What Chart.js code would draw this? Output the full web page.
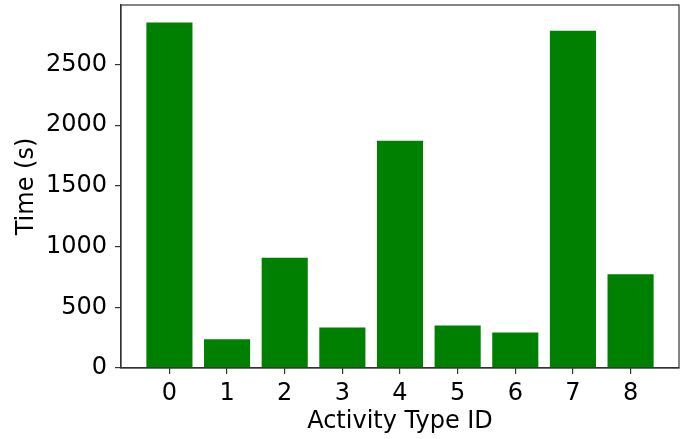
<!DOCTYPE html>
<html>
<head>
<meta charset="utf-8">
<script src="https://cdn.jsdelivr.net/npm/chart.js@4"></script>
<style>
    body { margin: 0; background: #fff; }
    #wrap { width: 688px; height: 439px; }
</style>
</head>
<body>
<div id="wrap"><canvas id="activityChart" width="688" height="439"></canvas></div>
<script>
// Activity time per type
const activityIds = [0, 1, 2, 3, 4, 5, 6, 7, 8];
const timeSeconds = [2846, 237, 909, 334, 1871, 350, 292, 2777, 772];
const yTicks = [0, 500, 1000, 1500, 2000, 2500];

const fontFamily = "'DejaVu Sans', sans-serif";
const textColor = '#000';

// draws the top and right spines, like a matplotlib axes box
const frameBox = {
    id: 'frameBox',
    afterDraw(chart) {
        const a = chart.chartArea;
        const ctx = chart.ctx;
        ctx.save();
        ctx.strokeStyle = '#333';
        ctx.lineWidth = 1.2;
        ctx.strokeRect(a.left, a.top, a.right - a.left, a.bottom - a.top);
        ctx.restore();
    }
};

new Chart(document.getElementById('activityChart'), {
    type: 'bar',
    data: {
        datasets: [{
            data: activityIds.map((id, i) => ({ x: id, y: timeSeconds[i] })),
            backgroundColor: '#008000',
            borderWidth: 0,
            barPercentage: 0.8,
            categoryPercentage: 1.0
        }]
    },
    options: {
        responsive: false,
        animation: false,
        layout: { padding: { left: 0, top: 5, right: 9, bottom: 0 } },
        plugins: {
            legend: { display: false },
            tooltip: { enabled: false }
        },
        scales: {
            x: {
                type: 'linear',
                offset: false,
                min: -0.84,
                max: 8.84,
                afterBuildTicks: scale => { scale.ticks = activityIds.map(v => ({ value: v })); },
                afterFit: scale => {
                    scale.height = 71;
                    scale.paddingLeft = 0;
                    scale.paddingRight = 0;
                },
                grid: { offset: false, drawOnChartArea: false, drawTicks: true, tickLength: 6, color: '#333', lineWidth: 1.2 },
                border: { display: true, color: '#333', width: 1.2 },
                ticks: {
                    color: textColor,
                    font: { family: fontFamily, size: 24 },
                    padding: 5,
                    maxRotation: 0,
                    callback: v => String(v)
                },
                title: {
                    display: true,
                    text: 'Activity Type ID',
                    color: textColor,
                    font: { family: fontFamily, size: 24 },
                    padding: { top: 0, bottom: 3 }
                }
            },
            y: {
                min: 0,
                max: 2990,
                afterBuildTicks: scale => { scale.ticks = yTicks.map(v => ({ value: v })); },
                afterFit: scale => {
                    scale.width = 121;
                    scale.paddingTop = 0;
                    scale.paddingBottom = 0;
                },
                grid: { drawOnChartArea: false, drawTicks: true, tickLength: 6, color: '#333', lineWidth: 1.2 },
                border: { display: true, color: '#333', width: 1.2 },
                ticks: {
                    color: textColor,
                    font: { family: fontFamily, size: 24 },
                    padding: 8,
                    callback: v => String(v)
                },
                title: {
                    display: true,
                    text: 'Time (s)',
                    color: textColor,
                    font: { family: fontFamily, size: 24 },
                    padding: { top: 12, bottom: 0 }
                }
            }
        }
    },
    plugins: [frameBox]
});
</script>
</body>
</html>
